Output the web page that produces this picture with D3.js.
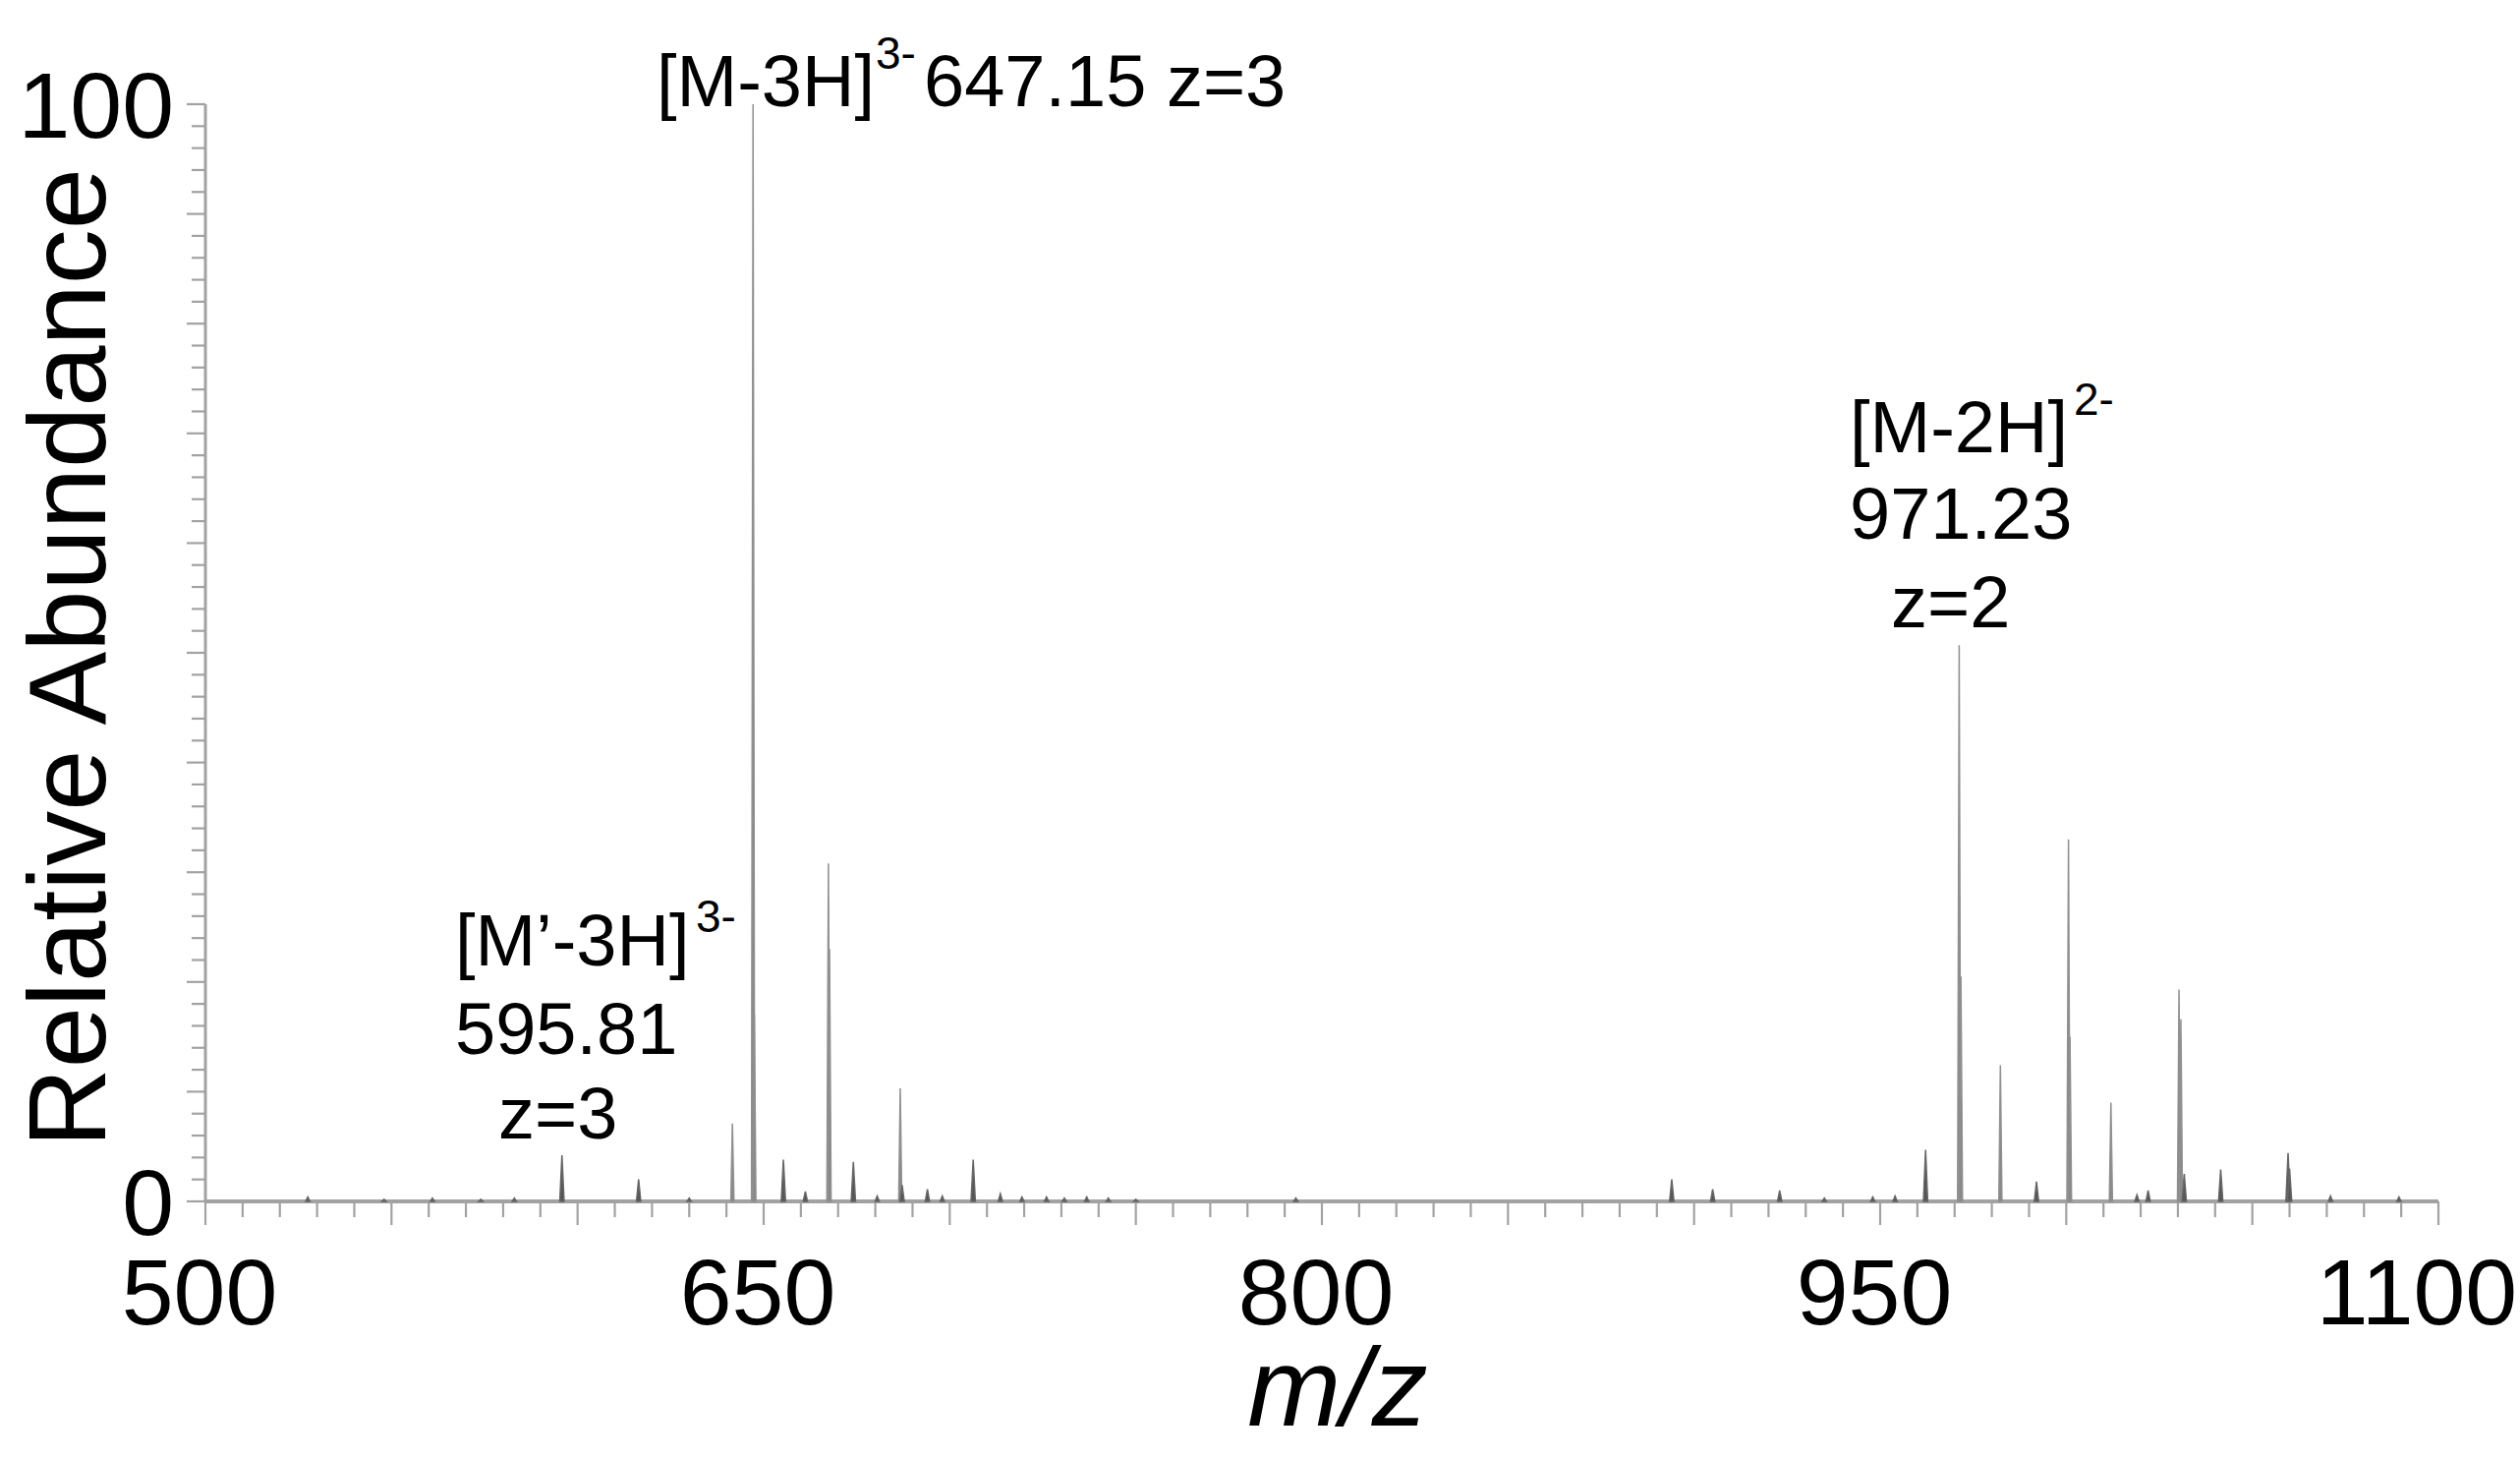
<!DOCTYPE html>
<html>
<head>
<meta charset="utf-8">
<script src="https://cdn.jsdelivr.net/npm/d3@7"></script>
<style>
  html, body { margin: 0; padding: 0; background: #fff; }
  svg { display: block; font-family: "Liberation Sans", Arial, sans-serif; }
</style>
</head>
<body>
<svg id="chart" width="2564" height="1483"></svg>
<script>
// ---- data ----
const peakMz = [
  527.5, 548, 561, 574, 583, 595.8, 616.4, 630, 641.6, 647.15, 647.5,
  655.3, 661.2, 667.4, 667.7, 674.1, 680.5, 686.7, 687.2, 694, 698, 706.3,
  713.6, 719.4, 726, 730.8, 736.8, 742.6, 750, 793,
  894, 905, 923, 935, 948, 954, 962.2, 971.23, 971.7, 982.3, 992,
  1000.6, 1001, 1012, 1019, 1022, 1030.3, 1030.8, 1031.7, 1041.5,
  1059.6, 1060, 1071, 1089.4
];
const peakIntensity = [
  0.4, 0.2, 0.3, 0.2, 0.3, 4.2, 2.0, 0.3, 7.1, 100, 17,
  3.8, 0.9, 30.8, 23, 3.6, 0.5, 10.3, 1.5, 1.1, 0.5, 3.8,
  0.7, 0.4, 0.4, 0.3, 0.4, 0.3, 0.2, 0.3,
  2.0, 1.1, 1.0, 0.3, 0.4, 0.5, 4.7, 50.7, 20.5, 12.4, 1.8,
  33, 15, 9.0, 0.6, 1.0, 19.3, 16.6, 2.5, 2.9,
  4.4, 3.0, 0.5, 0.4
];
const xDomain = [500, 1100];
const yDomain = [0, 100];
const xTickLabels = [500, 650, 800, 950, 1100];
const yTickLabels = [0, 100];
const xAxisTitle = "m/z";
const yAxisTitle = "Relative Abundance";
const annotationLines = [
  ["[M-3H]", "3-", "647.15 z=3"],
  ["[M\u2019-3H]", "3-", "595.81", "z=3"],
  ["[M-2H]", "2-", "971.23", "z=2"]
];

// ---- layout ----
const svg = d3.select("#chart");
const x = d3.scaleLinear().domain(xDomain).range([209, 2481]);
const y = d3.scaleLinear().domain(yDomain).range([1222, 106]);
const axisGrey = "#a2a2a2";

// y axis: minor ticks every 2, major every 10
const yAxisG = svg.append("g");
yAxisG.append("line")
  .attr("x1", x(500)).attr("x2", x(500))
  .attr("y1", y(100)).attr("y2", y(0))
  .attr("stroke", axisGrey).attr("stroke-width", 3);
yAxisG.selectAll("line.tick")
  .data(d3.range(0, 100.001, 2))
  .join("line").attr("class", "tick")
  .attr("x1", d => x(500) - (d % 10 === 0 ? 19 : 14))
  .attr("x2", x(500))
  .attr("y1", d => y(d)).attr("y2", d => y(d))
  .attr("stroke", axisGrey).attr("stroke-width", 2.2);
yAxisG.selectAll("text")
  .data(yTickLabels)
  .join("text")
  .attr("x", x(500) - 32)
  .attr("y", d => y(d) + 34)
  .attr("text-anchor", "end")
  .attr("font-size", 95)
  .attr("fill", "#000")
  .text(d => d);

// x axis: minor ticks every 10, major every 50
const xAxisG = svg.append("g");
xAxisG.selectAll("line.tick")
  .data(d3.range(500, 1100.001, 10))
  .join("line").attr("class", "tick")
  .attr("x1", d => x(d)).attr("x2", d => x(d))
  .attr("y1", y(0))
  .attr("y2", d => y(0) + (d % 50 === 0 ? 24 : 16))
  .attr("stroke", axisGrey).attr("stroke-width", 2.2);
xAxisG.selectAll("text")
  .data(xTickLabels)
  .join("text")
  .attr("x", (d, i) => x(d) - (i === xTickLabels.length - 1 ? 22 : 6))
  .attr("y", y(0) + 125)
  .attr("text-anchor", "middle")
  .attr("font-size", 95)
  .attr("fill", "#000")
  .text(d => d);

// peaks
const peaks = peakMz.map((m, i) => ({ mz: m, v: peakIntensity[i] }));
svg.append("g").selectAll("path")
  .data(peaks)
  .join("path")
  .attr("d", d => {
    const hw = d.v < 6 ? 2.2 : 1.6;
    return `M${x(d.mz) - hw},${y(0)} L${x(d.mz)},${y(d.v)} L${x(d.mz) + hw},${y(0)} Z`;
  })
  .attr("fill", d => d.v < 6 ? "#555" : "#888")
  .attr("stroke", d => d.v < 6 ? "#666" : "#909090")
  .attr("stroke-width", 1.5);

// x axis baseline (drawn on top of peak bases, like the spectrum trace)
xAxisG.append("line")
  .attr("x1", x(500)).attr("x2", x(1100))
  .attr("y1", y(0)).attr("y2", y(0))
  .attr("stroke", axisGrey).attr("stroke-width", 4);

// axis titles
svg.append("text")
  .attr("x", 1361).attr("y", 1450)
  .attr("text-anchor", "middle")
  .attr("font-size", 114)
  .attr("font-style", "italic")
  .attr("fill", "#000")
  .text(xAxisTitle);
svg.append("text")
  .attr("transform", "translate(107,669) rotate(-90)")
  .attr("text-anchor", "middle")
  .attr("font-size", 112)
  .attr("fill", "#000")
  .text(yAxisTitle);

// annotations
const annFS = 74, supFS = 46;
const ann = svg.append("g").attr("fill", "#000");
function label(txt, px, py, fs) {
  ann.append("text").attr("x", px).attr("y", py).attr("font-size", fs).text(txt);
}
// [M-3H]3- 647.15 z=3
let a = annotationLines[0];
label(a[0], 668, 108, annFS);
label(a[1], 891, 70, supFS);
label(a[2], 940, 108, annFS);
// [M'-3H]3- 595.81 z=3
a = annotationLines[1];
label(a[0], 463, 982, annFS);
label(a[1], 708, 948, supFS);
label(a[2], 463, 1072, annFS);
label(a[3], 507, 1158, annFS);
// [M-2H]2- 971.23 z=2
a = annotationLines[2];
label(a[0], 1882, 460, annFS);
label(a[1], 2110, 422, supFS);
label(a[2], 1882, 548, annFS);
label(a[3], 1924, 638, annFS);
</script>
</body>
</html>
